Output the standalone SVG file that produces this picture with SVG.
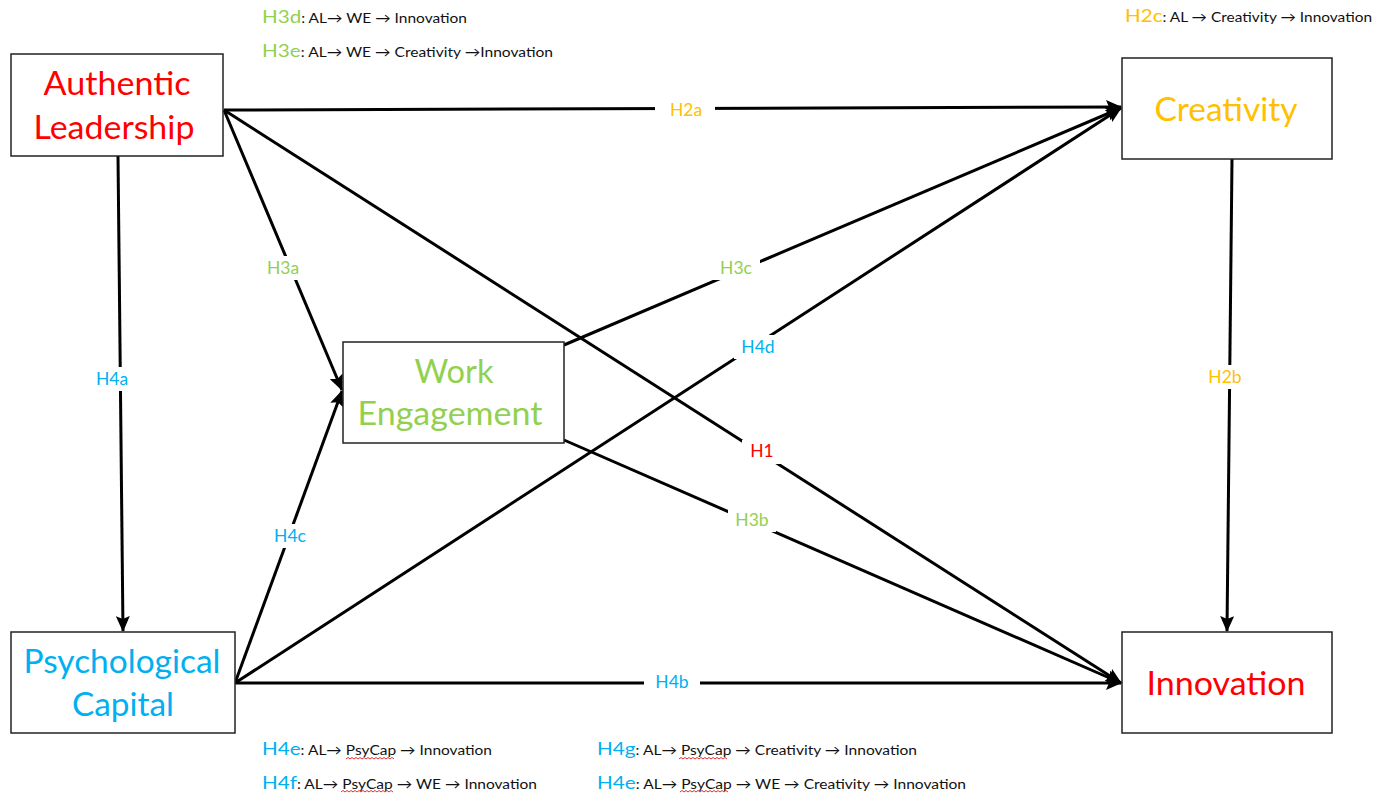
<svg xmlns="http://www.w3.org/2000/svg" width="1382" height="794" viewBox="0 0 1382 794">
<style>
.box{fill:#fff;stroke:#222;stroke-width:1.5}
.nt{font-family:Lato,"Open Sans","Liberation Sans",sans-serif;font-size:33px;text-anchor:middle}
.lb{font-family:Lato,"Open Sans","Liberation Sans",sans-serif;font-size:17.5px;text-anchor:middle}
.an{font-family:Lato,"Open Sans","Liberation Sans",sans-serif;font-size:13.5px;fill:#111}
.ah{font-size:18px}
.c{fill:none;stroke:#000;stroke-width:3;marker-end:url(#arr)}
.red{fill:#ff0000}.org{fill:#ffc000}.grn{fill:#92d050}.blu{fill:#00b0f0}
.bg{fill:#fff}
.sq{fill:none;stroke:#e03030;stroke-width:1}
</style>
<defs>
<marker id="arr" markerUnits="userSpaceOnUse" viewBox="0 0 16 14" refX="15" refY="7" markerWidth="16" markerHeight="14" orient="auto">
<path d="M0,0 L16,7 L0,14 L3,7 Z" fill="#000"/>
</marker>
</defs>
<rect width="1382" height="794" fill="#fff"/>
<g id="connectors">
<path class="c" d="M224,110 L1121,107"/>
<path class="c" d="M224,110 L1121,683"/>
<path class="c" d="M224,110 L342,390"/>
<path class="c" d="M118,156 L123,631"/>
<path class="c" d="M235,683 L1121,683"/>
<path class="c" d="M235,683 L342,391"/>
<path class="c" d="M235,683 L1121,108"/>
<path class="c" d="M564,345 L1121,108"/>
<path class="c" d="M564,440 L1121,683"/>
<path class="c" d="M1232,159 L1227,631"/>
</g>
<g id="labels">
<rect class="bg" x="655" y="98" width="60" height="24"/><text class="lb org" x="686" y="116">H2a</text>
<rect class="bg" x="261" y="256" width="44" height="24"/><text class="lb grn" x="283" y="274">H3a</text>
<rect class="bg" x="90" y="367" width="44" height="24"/><text class="lb blu" x="112" y="385">H4a</text>
<rect class="bg" x="742" y="440" width="40" height="24"/><text class="lb red" x="762" y="457">H1</text>
<rect class="bg" x="712" y="256" width="48" height="24"/><text class="lb grn" x="736" y="274">H3c</text>
<rect class="bg" x="734" y="335" width="48" height="24"/><text class="lb blu" x="758" y="353">H4d</text>
<rect class="bg" x="728" y="508" width="48" height="24"/><text class="lb grn" x="752" y="526">H3b</text>
<rect class="bg" x="266" y="524" width="48" height="24"/><text class="lb blu" x="290" y="542">H4c</text>
<rect class="bg" x="644" y="670" width="56" height="24"/><text class="lb blu" x="672" y="688">H4b</text>
<rect class="bg" x="1201" y="365" width="48" height="24"/><text class="lb org" x="1225" y="383">H2b</text>
</g>
<g id="node-al">
<rect class="box" x="11" y="54" width="212" height="102"/>
<text class="nt red" x="117" y="95" textLength="147" lengthAdjust="spacingAndGlyphs">Authentic</text>
<text class="nt red" x="114" y="139" textLength="161" lengthAdjust="spacingAndGlyphs">Leadership</text>
</g>
<g id="node-psycap">
<rect class="box" x="11" y="632" width="224" height="101"/>
<text class="nt blu" x="122" y="673" textLength="197" lengthAdjust="spacingAndGlyphs">Psychological</text>
<text class="nt blu" x="123" y="716" textLength="102" lengthAdjust="spacingAndGlyphs">Capital</text>
</g>
<g id="node-we">
<rect class="box" x="343" y="342" width="221" height="101"/>
<text class="nt grn" x="454" y="383" textLength="79" lengthAdjust="spacingAndGlyphs">Work</text>
<text class="nt grn" x="450" y="425" textLength="185" lengthAdjust="spacingAndGlyphs">Engagement</text>
</g>
<g id="node-creativity">
<rect class="box" x="1122" y="58" width="210" height="101"/>
<text class="nt org" x="1226" y="121" textLength="143" lengthAdjust="spacingAndGlyphs">Creativity</text>
</g>
<g id="node-innovation">
<rect class="box" x="1122" y="632" width="210" height="101"/>
<text class="nt red" x="1226" y="695" textLength="159" lengthAdjust="spacingAndGlyphs">Innovation</text>
</g>
<g id="annotations">
<text class="an" x="262" y="23" textLength="205" lengthAdjust="spacingAndGlyphs"><tspan class="ah grn">H3d</tspan>: AL→ WE → Innovation</text>
<text class="an" x="262" y="57" textLength="291" lengthAdjust="spacingAndGlyphs"><tspan class="ah grn">H3e</tspan>: AL→ WE → Creativity →Innovation</text>
<text class="an" x="1125" y="22" textLength="247" lengthAdjust="spacingAndGlyphs"><tspan class="ah org">H2c</tspan>: AL → Creativity → Innovation</text>
<text class="an" x="262" y="755" textLength="230" lengthAdjust="spacingAndGlyphs"><tspan class="ah blu">H4e</tspan>: AL→ PsyCap → Innovation</text>
<text class="an" x="262" y="789" textLength="275" lengthAdjust="spacingAndGlyphs"><tspan class="ah blu">H4f</tspan>: AL→ PsyCap → WE → Innovation</text>
<text class="an" x="597" y="755" textLength="320" lengthAdjust="spacingAndGlyphs"><tspan class="ah blu">H4g</tspan>: AL→ PsyCap → Creativity → Innovation</text>
<text class="an" x="597" y="789" textLength="369" lengthAdjust="spacingAndGlyphs"><tspan class="ah blu">H4e</tspan>: AL→ PsyCap → WE → Creativity → Innovation</text>
<path class="sq" d="M346,759 l2,-1.5 l2,1.5 l2,-1.5 l2,1.5 l2,-1.5 l2,1.5 l2,-1.5 l2,1.5 l2,-1.5 l2,1.5 l2,-1.5 l2,1.5 l2,-1.5 l2,1.5 l2,-1.5 l2,1.5 l2,-1.5 l2,1.5 l2,-1.5 l2,1.5 l2,-1.5 l2,1.5 l2,-1.5 l2,1.5"/>
<path class="sq" d="M341,792 l2,-1.5 l2,1.5 l2,-1.5 l2,1.5 l2,-1.5 l2,1.5 l2,-1.5 l2,1.5 l2,-1.5 l2,1.5 l2,-1.5 l2,1.5 l2,-1.5 l2,1.5 l2,-1.5 l2,1.5 l2,-1.5 l2,1.5 l2,-1.5 l2,1.5 l2,-1.5 l2,1.5 l2,-1.5 l2,1.5 l2,-1.5 l2,1.5"/>
<path class="sq" d="M679,759 l2,-1.5 l2,1.5 l2,-1.5 l2,1.5 l2,-1.5 l2,1.5 l2,-1.5 l2,1.5 l2,-1.5 l2,1.5 l2,-1.5 l2,1.5 l2,-1.5 l2,1.5 l2,-1.5 l2,1.5 l2,-1.5 l2,1.5 l2,-1.5 l2,1.5 l2,-1.5 l2,1.5 l2,-1.5 l2,1.5"/>
<path class="sq" d="M680,792 l2,-1.5 l2,1.5 l2,-1.5 l2,1.5 l2,-1.5 l2,1.5 l2,-1.5 l2,1.5 l2,-1.5 l2,1.5 l2,-1.5 l2,1.5 l2,-1.5 l2,1.5 l2,-1.5 l2,1.5 l2,-1.5 l2,1.5 l2,-1.5 l2,1.5 l2,-1.5 l2,1.5 l2,-1.5 l2,1.5"/>
</g>
</svg>
